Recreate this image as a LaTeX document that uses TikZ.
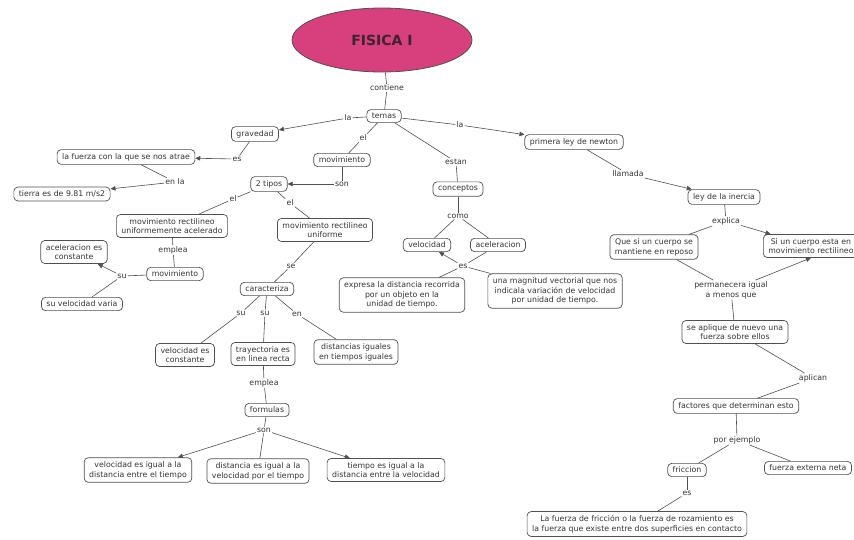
\documentclass[tikz,border=0pt]{standalone}
\usepackage{fontspec}
\setmainfont{DejaVu Sans}
\usetikzlibrary{arrows.meta,shapes.geometric}
\definecolor{linec}{HTML}{505050}
\definecolor{textc}{HTML}{353535}
\definecolor{pinkc}{HTML}{D8407D}
\newcommand{\fs}{\fontsize{7.8}{9.8}\selectfont}
\tikzset{
  box/.style={draw=linec, rounded corners=4pt, fill=white, font=\fs, text=textc,
    inner xsep=5pt, inner ysep=3.6pt, align=center, line width=0.7pt},
  lab/.style={font=\fs, text=textc, inner sep=1pt, fill=white, align=center},
  ln/.style={draw=linec, line width=0.6pt},
  arr/.style={ln, -{Triangle[length=5pt,width=4.5pt]}},
}
\begin{document}
\begin{tikzpicture}[x=1pt,y=-1pt]
\useasboundingbox (0,0) rectangle (854,539);
\clip (0,0) rectangle (854,539);
\fill[white] (0,0) rectangle (854,539);
% main
\node[ellipse, draw=linec, line width=0.8pt, fill=pinkc, minimum width=180pt, minimum height=64pt,
  font=\fontsize{14}{16}\selectfont\bfseries, text={rgb,255:red,60;green,35;blue,45}] (fis) at (382,40) {FISICA I};
\node[lab] (cont) at (387,88) {contiene};
\node[box] (temas) at (384,116) {temas};
% left branch
\node[lab] (la1) at (348,118) {la};
\node[box] (grav) at (255,134) {gravedad};
\node[lab] (es1) at (237,159) {es};
\node[box] (fuerza1) at (126,157) {la fuerza con la que se nos atrae};
\node[lab] (enla) at (175,182) {en la};
\node[box] (tierra) at (62,194) {tierra es de 9.81 m/s2};
% movimiento
\node[lab] (el1) at (363,138) {el};
\node[box] (mov1) at (342,160) {movimiento};
\node[lab] (son1) at (342,184) {son};
\node[box] (tipos) at (269,184) {2 tipos};
\node[lab] (el2) at (233,199) {el};
\node[lab] (el3) at (290,203) {el};
\node[box] (mrua) at (172,226) {movimiento rectilineo\\uniformemente acelerado};
\node[lab] (empl1) at (173,250) {emplea};
\node[box] (mov2) at (175,274) {movimiento};
\node[lab] (su0) at (122,276) {su};
\node[box] (acel1) at (74,252) {aceleracion es\\constante};
\node[box] (velvar) at (82,304) {su velocidad varia};
\node[box] (mru) at (325,230) {movimiento rectilineo\\uniforme};
\node[lab] (se) at (291,266) {se};
\node[box] (carac) at (267,289) {caracteriza};
\node[lab] (su1) at (241,313) {su};
\node[lab] (su2) at (265,313) {su};
\node[lab] (en1) at (297,314) {en};
\node[box] (velc) at (185,355) {velocidad es\\constante};
\node[box] (tray) at (263,354) {trayectoria es\\en linea recta};
\node[box] (dist) at (356,352) {distancias iguales\\en tiempos iguales};
\node[lab] (empl2) at (264,383) {emplea};
\node[box] (form) at (267,410) {formulas};
\node[lab] (son2) at (264,430) {son};
\node[box] (f1) at (138,470) {velocidad es igual a la\\distancia entre el tiempo};
\node[box] (f2) at (258,471) {distancia es igual a la\\velocidad por el tiempo};
\node[box] (f3) at (386,470) {tiempo es igual a la\\distancia entre la velocidad};
% conceptos
\node[lab] (estan) at (456,162) {estan};
\node[box] (conc) at (458,189) {conceptos};
\node[lab] (como) at (458,216) {como};
\node[box] (vel) at (427,245) {velocidad};
\node[box] (acel) at (498,245) {aceleracion};
\node[lab] (es3) at (463,266) {es};
\node[box] (expr) at (402,295) {expresa la distancia recorrida\\por un objeto en la\\unidad de tiempo.};
\node[box] (magn) at (555,291) {una magnitud vectorial que nos\\indicala variación de velocidad\\por unidad de tiempo.};
% newton
\node[lab] (la2) at (460,125) {la};
\node[box] (prim) at (574,142) {primera ley de newton};
\node[lab] (llam) at (628,174) {llamada};
\node[box] (ley) at (724,197) {ley de la inercia};
\node[lab] (expl) at (726,221) {explica};
\node[box] (quesi) at (654,247) {Que si un cuerpo se\\mantiene en reposo};
\node[box, anchor=west] (sicu) at (763,246) {Si un cuerpo esta en\\movimiento rectilineo};
\node[lab] (perm) at (731,290) {permanecera igual\\a menos que};
\node[box] (seap) at (735,332) {se aplique de nuevo una\\fuerza sobre ellos};
\node[lab] (apli) at (813,378) {aplican};
\node[box] (fact) at (736,406) {factores que determinan esto};
\node[lab] (porej) at (737,440) {por ejemplo};
\node[box] (fric) at (687,470) {friccion};
\node[box] (fext) at (808,468) {fuerza externa neta};
\node[lab] (es4) at (687,493) {es};
\node[box] (lafz) at (637,524) {La fuerza de fricción o la fuerza de rozamiento es\\la fuerza que existe entre dos superficies en contacto};
% connectors
\draw[ln] (fis) -- (cont);
\draw[ln] (cont) -- (temas);
\draw[ln] (temas) -- (la1);
\draw[arr] (la1) -- (grav);
\draw[ln] (grav) -- (es1);
\draw[arr] (es1) -- (fuerza1);
\draw[ln] (fuerza1) -- (enla);
\draw[arr] (enla) -- (tierra);
\draw[ln] (temas) -- (el1);
\draw[ln] (el1) -- (mov1);
\draw[ln] (mov1) -- (son1);
\draw[arr] (son1) -- (tipos);
\draw[ln] (tipos) -- (el2);
\draw[ln] (el2) -- (mrua);
\draw[ln] (tipos) -- (el3);
\draw[ln] (el3) -- (mru);
\draw[ln] (mrua) -- (empl1);
\draw[ln] (empl1) -- (mov2);
\draw[ln] (mov2) -- (su0);
\draw[arr] (su0) -- (acel1);
\draw[ln] (su0) -- (velvar);
\draw[ln] (mru) -- (se);
\draw[ln] (se) -- (carac);
\draw[ln] (carac) -- (su1);
\draw[ln] (su1) -- (velc);
\draw[ln] (carac) -- (su2);
\draw[ln] (su2) -- (tray);
\draw[ln] (carac) -- (en1);
\draw[ln] (en1) -- (dist);
\draw[ln] (tray) -- (empl2);
\draw[ln] (empl2) -- (form);
\draw[ln] (form) -- (son2);
\draw[arr] (son2) -- (f1);
\draw[ln] (son2) -- (f2);
\draw[arr] (son2) -- (f3);
\draw[ln] (temas) -- (estan);
\draw[ln] (estan) -- (conc);
\draw[ln] (conc) -- (como);
\draw[ln] (como) -- (vel);
\draw[ln] (como) -- (acel);
\draw[ln] (acel) -- (es3);
\draw[arr] (es3) -- (vel);
\draw[ln] (es3) -- (expr);
\draw[ln] (es3) -- (magn);
\draw[ln] (temas) -- (la2);
\draw[arr] (la2) -- (prim);
\draw[ln] (prim) -- (llam);
\draw[arr] (llam) -- (ley);
\draw[ln] (ley) -- (expl);
\draw[ln] (expl) -- (quesi);
\draw[arr] (expl) -- (sicu);
\draw[ln] (quesi) -- (perm);
\draw[arr] (perm) -- (sicu.south);
\draw[ln] (perm) -- (seap);
\draw[ln] (seap) -- (apli);
\draw[ln] (apli) -- (fact);
\draw[ln] (fact) -- (porej);
\draw[ln] (porej) -- (fric);
\draw[ln] (porej) -- (fext);
\draw[ln] (fric) -- (es4);
\draw[ln] (es4) -- (lafz);
\end{tikzpicture}
\end{document}
